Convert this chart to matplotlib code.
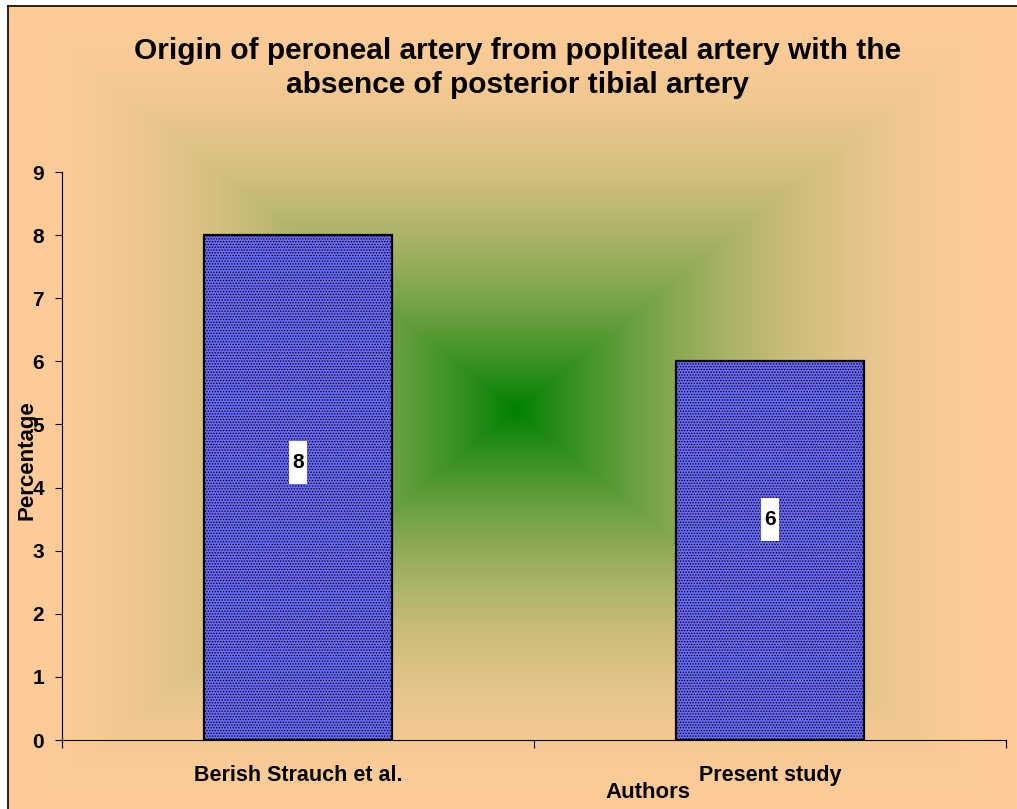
import matplotlib
matplotlib.use("Agg")
import matplotlib.pyplot as plt
import numpy as np
from matplotlib.patches import Rectangle
from matplotlib.colors import to_rgb

categorias = ["Berish Strauch et al.", "Present study"]
valores = [8, 6]
etiquetas = ["8", "6"]
pos_etiqueta = [4.4, 3.5]   # altura de la etiqueta dentro de la barra
yticks = list(range(0, 10))

W, H = 1017, 809
plt.rcParams["font.family"] = ["Liberation Sans", "DejaVu Sans"]
plt.rcParams["hatch.color"] = "#B8B8FF"
plt.rcParams["hatch.linewidth"] = 0.6

fig = plt.figure(figsize=(W / 100, H / 100), dpi=100)

# fondo degradado rectangular desde el centro (verde -> melocoton)
verde = np.array(to_rgb("#008000"))
melocoton = np.array(to_rgb("#FDCC98"))
yy, xx = np.mgrid[0:H, 0:W]
cx, cy, hw, hh = 515, 410, 500, 404
t = np.clip(np.maximum(np.abs(xx - cx) / hw, np.abs(yy - cy) / hh), 0, 1)
f = 1 - (1 - t) ** 2
img = verde + f[..., None] * (melocoton - verde)
img[:6, :, :] = 1.0
img[:, :8, :] = 1.0
fig.figimage(img[::-1], xo=0, yo=0, origin="lower", zorder=-5)

# borde del area del grafico
fig.add_artist(plt.Line2D([8 / W, 8 / W], [0, 1 - 6 / H], color="black", lw=1.2,
                          transform=fig.transFigure))
fig.add_artist(plt.Line2D([8 / W, 1], [1 - 6 / H, 1 - 6 / H], color="black", lw=1.2,
                          transform=fig.transFigure))

ax = fig.add_axes([62 / W, (H - 740) / H, (1006 - 62) / W, (740 - 172) / H], zorder=2)
ax.patch.set_alpha(0)

x = np.arange(len(categorias))
ax.bar(x, valores, width=0.4, color="#6868FA", edgecolor="black", linewidth=1.6,
       hatch="......", zorder=2)

for xi, et, yp in zip(x, etiquetas, pos_etiqueta):
    ax.add_patch(Rectangle((xi - 0.02, yp - 0.34), 0.04, 0.68, facecolor="white",
                           edgecolor="none", zorder=3))
    ax.text(xi, yp, et, ha="center", va="center", fontsize=15, fontweight="bold", zorder=4)

ax.set_xlim(-0.5, 1.5)
ax.set_ylim(0, 9)
ax.set_yticks(yticks)
ax.set_yticklabels([str(v) for v in yticks], fontsize=15, fontweight="bold")
ax.set_xticks([-0.5, 0.5, 1.5])
ax.set_xticklabels([])
ax.set_xticks(x, minor=True)
ax.set_xticklabels(categorias, minor=True, fontsize=15.5, fontweight="bold")
ax.tick_params(axis="x", which="major", length=6, width=0.8)
ax.tick_params(axis="x", which="minor", length=0, pad=18)
ax.tick_params(axis="y", length=5, width=0.8, pad=8)

for s in ["top", "right"]:
    ax.spines[s].set_visible(False)
for s in ["left", "bottom"]:
    ax.spines[s].set_linewidth(0.8)

fig.text(518 / W, 1 - 68 / H,
         "Origin of peroneal artery from popliteal artery with the\nabsence of posterior tibial artery",
         ha="center", va="center", fontsize=21.5, fontweight="bold", linespacing=1.25)
fig.text(648 / W, 1 - 793 / H, "Authors", ha="center", va="center", fontsize=16, fontweight="bold")
fig.text(27 / W, 1 - 460 / H, "Percentage", ha="center", va="center", rotation=90,
         fontsize=16, fontweight="bold")

fig.savefig("out.png", dpi=100)
